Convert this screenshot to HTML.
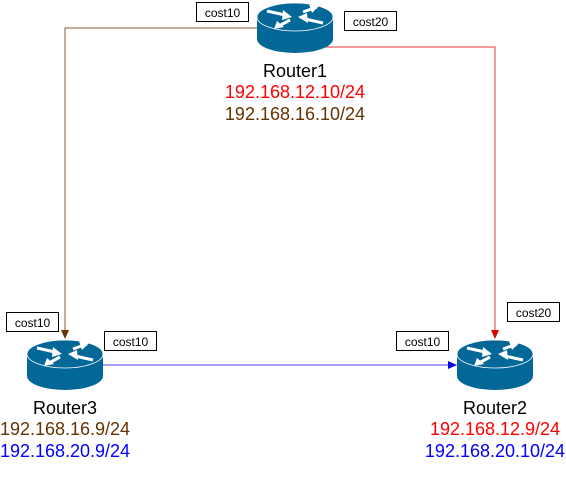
<!DOCTYPE html>
<html><head><style>body{margin:0;background:#fff}svg{display:block}</style></head><body>
<svg width="566" height="482" viewBox="0 0 566 482" xmlns="http://www.w3.org/2000/svg" font-family="Liberation Sans, sans-serif">
<defs>
<g id="r">
<path d="M0,14 L0,36 A38,14 0 0 0 76,36 L76,14 Z" fill="#036897"/>
<ellipse cx="38" cy="14" rx="38" ry="14" fill="#036897" stroke="#fff" stroke-width="0.8"/>
<g fill="#fff" stroke="#fff" stroke-width="3">
<line x1="10" y1="8" x2="28" y2="12"/><polygon points="35,14 26,7 25,17" stroke="none"/>
<line x1="66" y1="20" x2="48" y2="16"/><polygon points="41,14 50,10 51,20" stroke="none"/>
<line x1="60" y1="4" x2="46" y2="9"/><polygon points="62,3 52,1 55,10" stroke="none"/>
<line x1="33" y1="17" x2="22" y2="23"/><polygon points="17,26 20,18 27,24" stroke="none"/>
</g>
</g>
</defs>
<g fill="none" stroke-width="1">
<polyline points="257,28 65,28 65,332" stroke="#8a5a30"/>
<polyline points="325,47 495,47 495,332" stroke="#ee3333"/>
<line x1="103" y1="365" x2="450" y2="365" stroke="#4444ee"/>
</g>
<polygon points="61,330 69,330 65,339" fill="#663300"/>
<polygon points="491,330 499,330 495,339" fill="#dd0000"/>
<polygon points="448,361 448,369 457,365" fill="#0000dd"/>
<use href="#r" x="257" y="3"/>
<use href="#r" x="27" y="340"/>
<use href="#r" x="457" y="340"/>
<g fill="#fff" stroke="#000" stroke-width="1">
<rect x="196.5" y="2.5" width="52" height="19"/>
<rect x="344.5" y="11.5" width="52" height="19"/>
<rect x="6.5" y="312.5" width="52" height="19"/>
<rect x="104.5" y="331.5" width="52" height="19"/>
<rect x="396.5" y="331.5" width="52" height="19"/>
<rect x="507.5" y="302.5" width="52" height="19"/>
</g>
<g font-size="12" text-anchor="middle" fill="#000">
<text x="222.5" y="17">cost10</text>
<text x="370.5" y="26">cost20</text>
<text x="32.5" y="327">cost10</text>
<text x="130.5" y="346">cost10</text>
<text x="422.5" y="346">cost10</text>
<text x="533.5" y="317">cost20</text>
</g>
<g font-size="18" text-anchor="middle">
<text x="295" y="77" fill="#000">Router1</text>
<text x="295" y="98" fill="#ff0000">192.168.12.10/24</text>
<text x="295" y="120" fill="#663300">192.168.16.10/24</text>
<text x="65" y="414" fill="#000">Router3</text>
<text x="65" y="435" fill="#663300">192.168.16.9/24</text>
<text x="65" y="457" fill="#0000ff">192.168.20.9/24</text>
<text x="495" y="414" fill="#000">Router2</text>
<text x="495" y="435" fill="#ff0000">192.168.12.9/24</text>
<text x="495" y="457" fill="#0000ff">192.168.20.10/24</text>
</g>
</svg>
</body></html>
